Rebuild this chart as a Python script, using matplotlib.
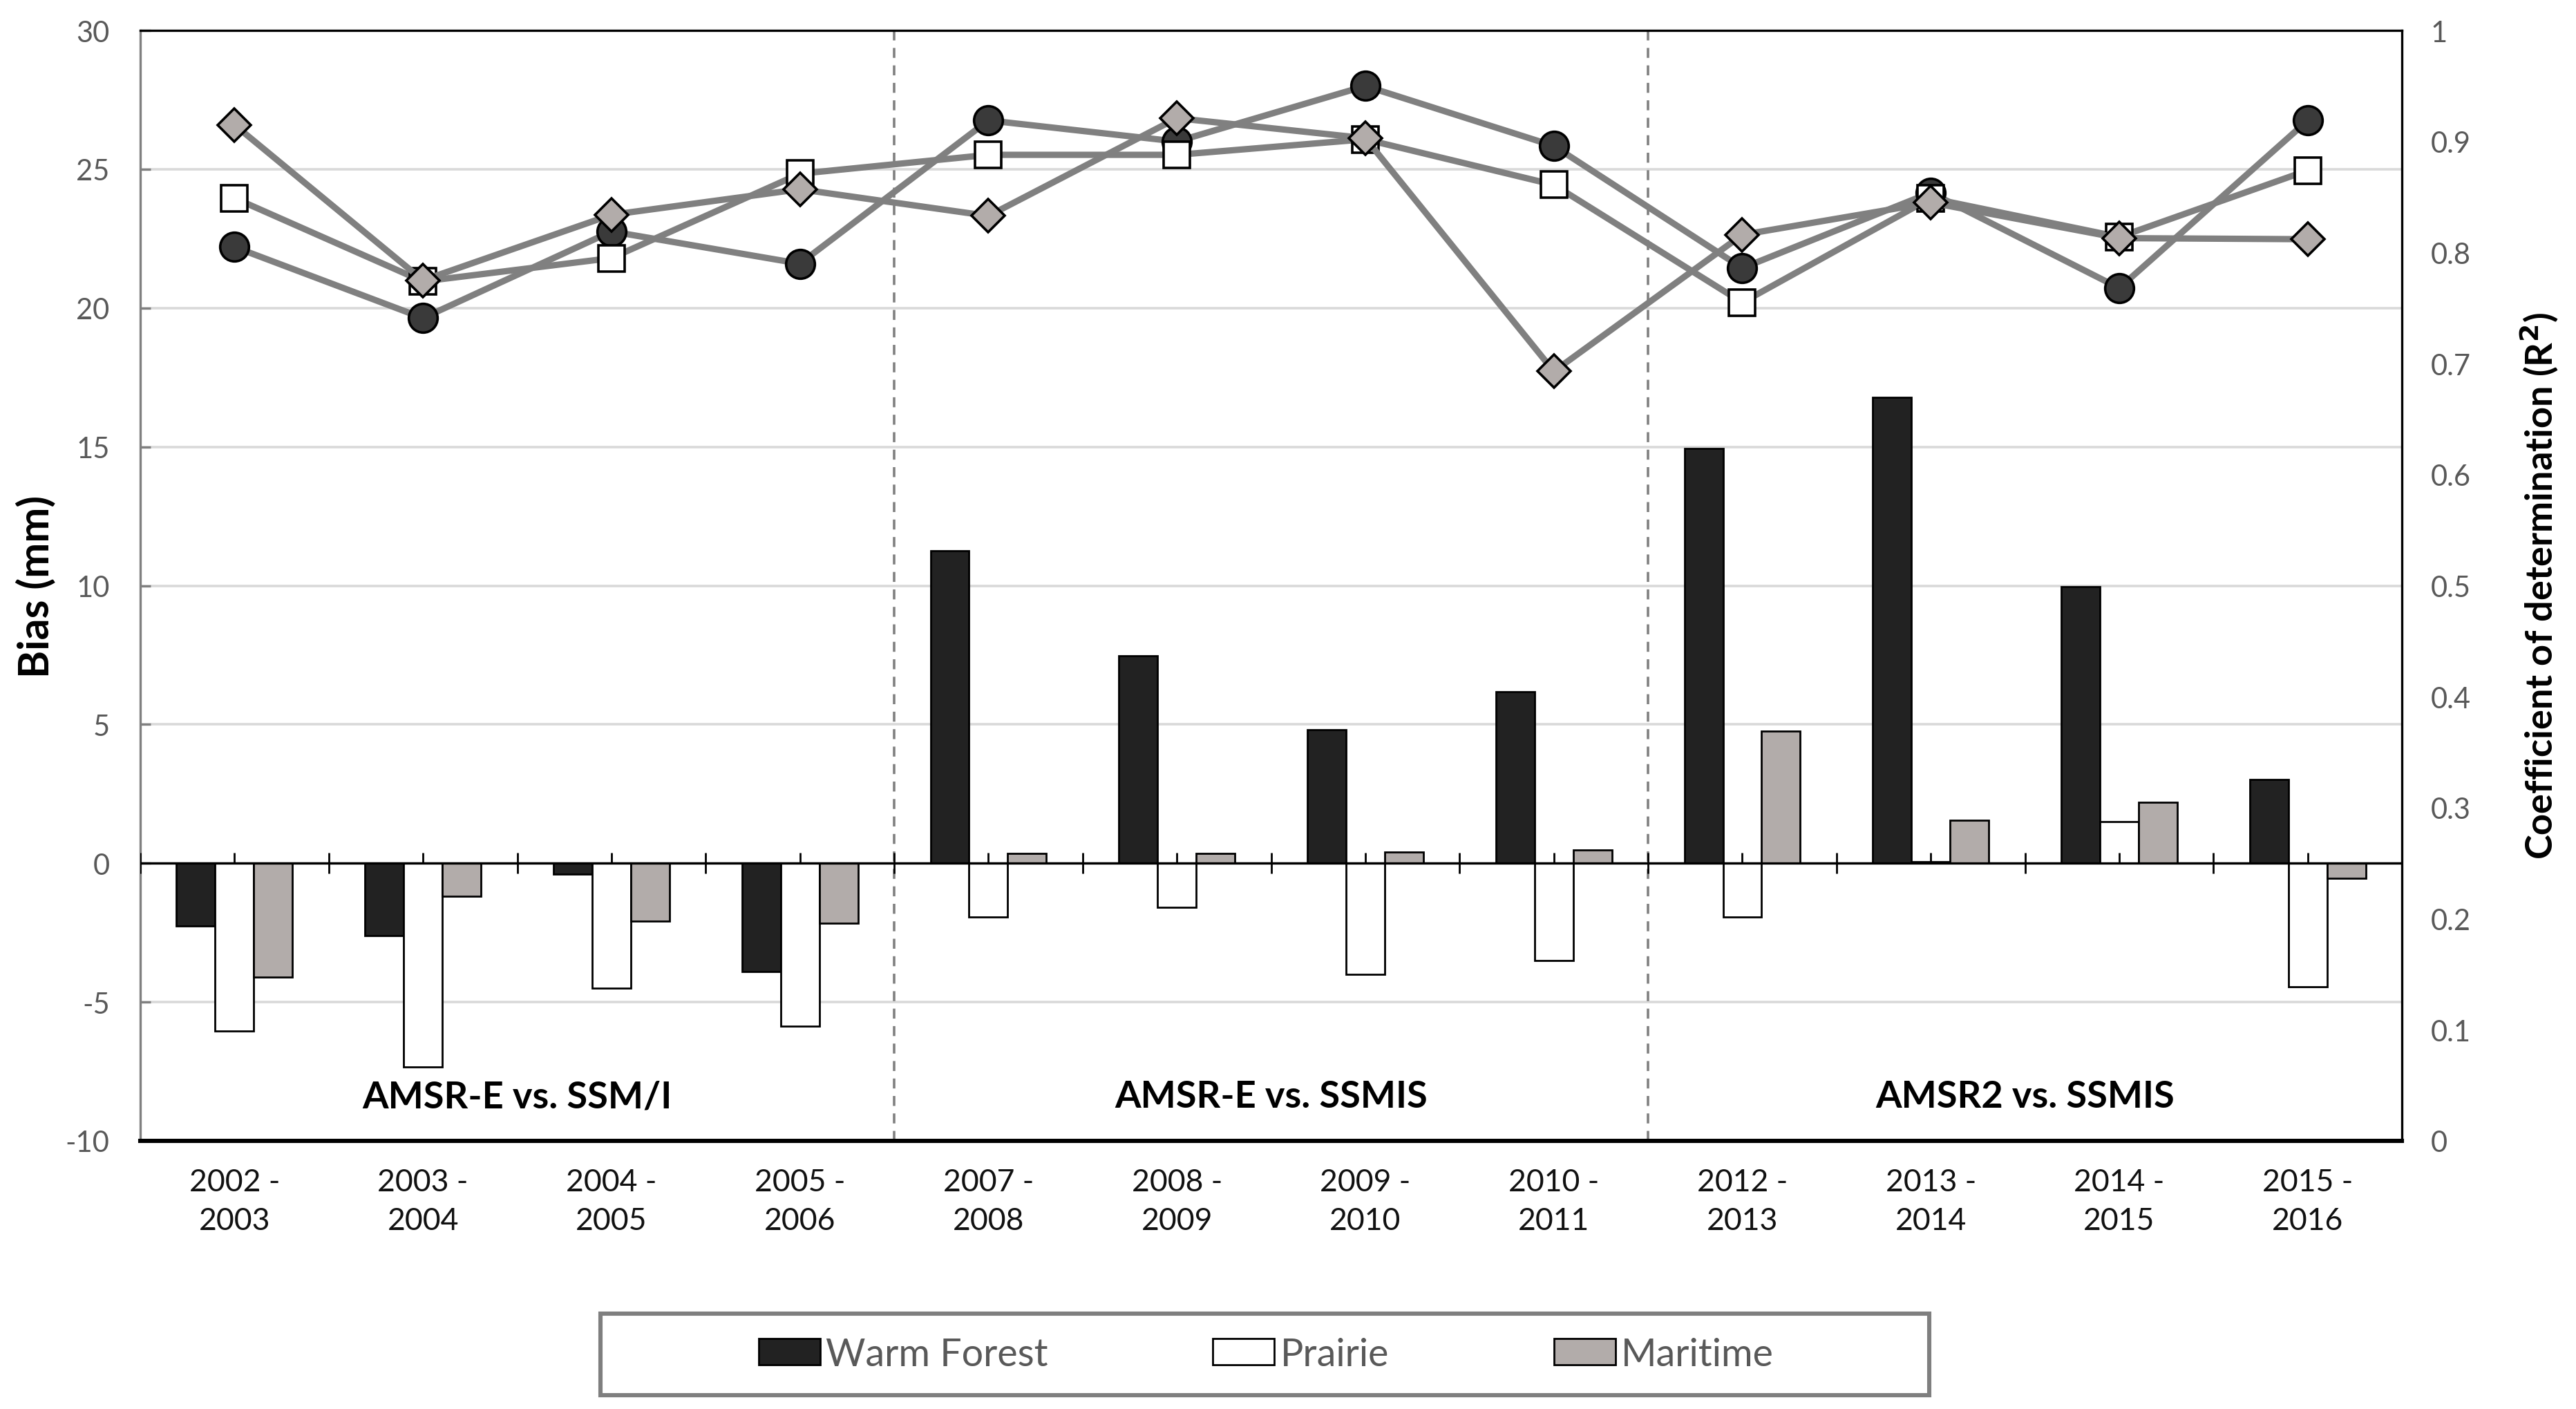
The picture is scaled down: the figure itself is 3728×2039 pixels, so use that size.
import numpy as np
import matplotlib
matplotlib.use("Agg")
import matplotlib.pyplot as plt
from matplotlib.patches import Patch, Rectangle

plt.rcParams['font.family'] = ['Lato', 'DejaVu Sans']
plt.rcParams['axes.unicode_minus'] = False

periods = ['2002 -\n2003', '2003 -\n2004', '2004 -\n2005', '2005 -\n2006',
           '2007 -\n2008', '2008 -\n2009', '2009 -\n2010', '2010 -\n2011',
           '2012 -\n2013', '2013 -\n2014', '2014 -\n2015', '2015 -\n2016']
series_names = ['Warm Forest', 'Prairie', 'Maritime']

bias_wf = [-2.27, -2.6, -0.38, -3.89, 11.25, 7.48, 4.8, 6.18, 14.93, 16.79, 9.96, 3.02]
bias_pr = [-6.05, -7.34, -4.5, -5.86, -1.94, -1.59, -4.0, -3.51, -1.94, 0.05, 1.51, -4.45]
bias_ma = [-4.1, -1.19, -2.08, -2.16, 0.35, 0.35, 0.4, 0.49, 4.75, 1.54, 2.19, -0.54]

r2_wf = [0.805, 0.741, 0.819, 0.790, 0.919, 0.900, 0.950, 0.896, 0.786, 0.854, 0.768, 0.919]
r2_pr = [0.849, 0.774, 0.795, 0.871, 0.888, 0.888, 0.902, 0.861, 0.755, 0.849, 0.814, 0.874]
r2_ma = [0.915, 0.775, 0.834, 0.857, 0.833, 0.921, 0.903, 0.693, 0.816, 0.845, 0.813, 0.812]

sensor_labels = ['AMSR-E vs. SSM/I', 'AMSR-E vs. SSMIS', 'AMSR2 vs. SSMIS']
sensor_centers = [1.5, 5.5, 9.5]
sensor_breaks = [3.5, 7.5]

bar_colors = ['#222222', '#ffffff', '#b2acaa']
marker_faces = ['#3a3a3a', '#ffffff', '#b2acaa']
markers = ['o', 's', 'D']
msizes = [15, 13.5, 12.2]

fig = plt.figure(figsize=(18.64, 10.2), dpi=200)
ax = fig.add_axes([0.05445, 0.1902, 0.878, 0.7877])
ax2 = ax.twinx()

x = np.arange(len(periods))
w = 0.205
for i, (vals, c) in enumerate(zip([bias_wf, bias_pr, bias_ma], bar_colors)):
    ax.bar(x + (i - 1) * w, vals, width=w, color=c, edgecolor='black',
           linewidth=1.0, zorder=3, label=series_names[i])

ax.set_xlim(-0.5, len(periods) - 0.5)
ax.set_ylim(-10, 30)
ax.set_yticks(np.arange(-10, 31, 5))
ax.yaxis.grid(True, color='#d9d9d9', linewidth=1.3, zorder=0)
ax.set_axisbelow(True)
ax.axhline(0, color='black', linewidth=1.2, zorder=4)
bounds = np.arange(-0.5, len(periods), 1.0)
ax.plot(bounds, np.zeros_like(bounds), linestyle='none', marker='|',
        markersize=11, markeredgewidth=1.0, color='black', zorder=4)
ax.plot(x, np.zeros_like(x, dtype=float), linestyle='none', marker=2,
        markersize=5.5, markeredgewidth=1.0, color='black', zorder=4)

for b in sensor_breaks:
    ax.axvline(b, color='#808080', linestyle=(0, (4, 3)), linewidth=1.3, zorder=2)
for cx, t in zip(sensor_centers, sensor_labels):
    ax.text(cx, -8.4, t, ha='center', va='center', fontsize=19.5,
            fontweight='bold', color='black', zorder=5)

ax.set_xticks(x)
ax.set_xticklabels(periods, fontsize=16, color='#111111', linespacing=1.45)
ax.tick_params(axis='x', length=0, pad=14)
ax.tick_params(axis='y', direction='in', length=5.4, width=1.2, color='#808080',
               pad=16, labelsize=15, labelcolor='#595959')
ax.set_ylabel('Bias (mm)', fontsize=22, fontweight='bold')
ax.yaxis.set_label_coords(-0.0376, 0.5)

for s in ['top', 'right', 'bottom']:
    ax.spines[s].set_color('black')
ax.spines['top'].set_linewidth(1.2)
ax.spines['right'].set_linewidth(1.2)
ax.spines['bottom'].set_linewidth(2.2)
ax.spines['left'].set_color('#808080')
ax.spines['left'].set_linewidth(1.2)
for s in ax2.spines.values():
    s.set_visible(False)

for vals, m, ms, fc in zip([r2_wf, r2_pr, r2_ma], markers, msizes, marker_faces):
    ax2.plot(x, vals, color='#808080', linewidth=3.3, marker=m, markersize=ms,
             markerfacecolor=fc, markeredgecolor='black', markeredgewidth=1.3,
             zorder=5)
ax2.set_ylim(0, 1)
ax2.set_yticks(np.round(np.arange(0, 1.01, 0.1), 1))
ax2.set_yticklabels(['0', '0.1', '0.2', '0.3', '0.4', '0.5', '0.6', '0.7',
                     '0.8', '0.9', '1'])
ax2.tick_params(axis='y', length=0, pad=15, labelsize=15, labelcolor='#595959')
ax2.set_ylabel('Coefficient of determination (R$^{\\mathbf{2}}$)', fontsize=19.5,
               fontweight='bold')
ax2.yaxis.set_label_coords(1.0516, 0.5)

fig.patches.append(Rectangle((0.233, 0.0098), 0.516, 0.0578, transform=fig.transFigure,
                             facecolor='white', edgecolor='#7f7f7f', linewidth=2.2))
handles = [Patch(facecolor=c, edgecolor='black', linewidth=1.0) for c in bar_colors]
leg = fig.legend(handles, series_names, loc='center', bbox_to_anchor=(0.4915, 0.0387),
                 ncol=3, frameon=False, fontsize=20, handlelength=1.6,
                 handleheight=0.66, handletextpad=0.15, columnspacing=4.3)
for t in leg.get_texts():
    t.set_color('#595959')

fig.savefig('out.png', dpi=200)
